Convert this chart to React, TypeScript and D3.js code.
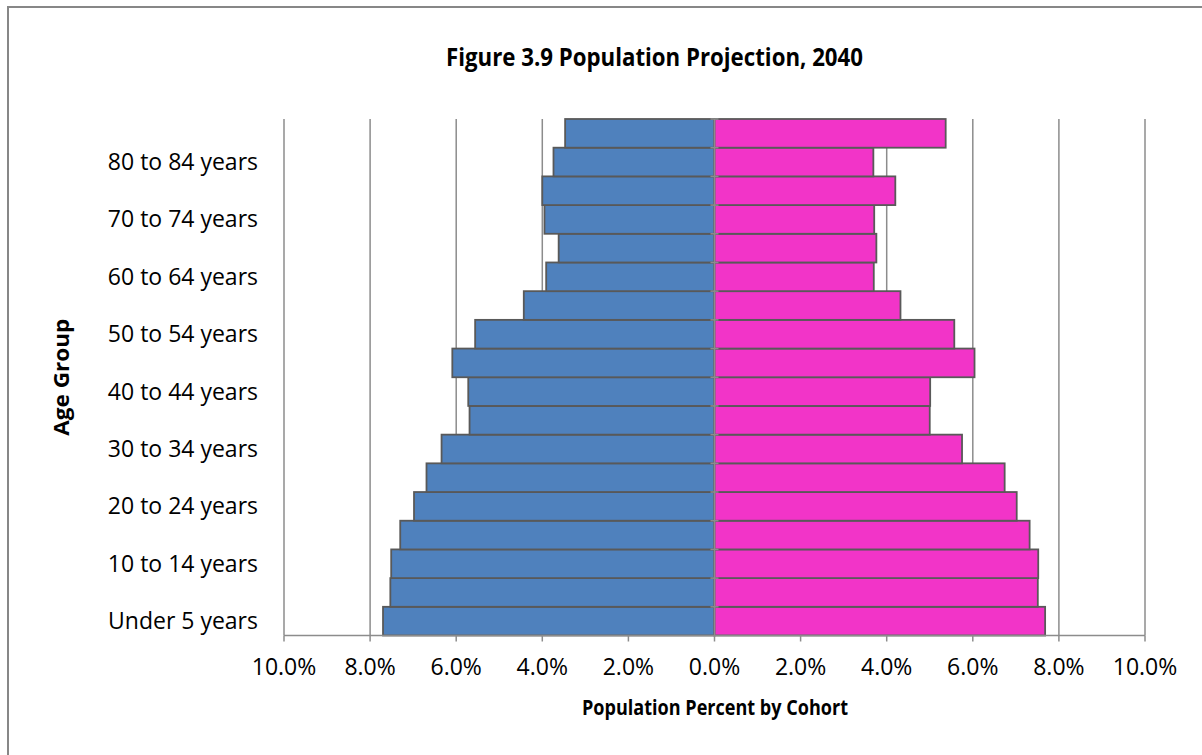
import * as d3 from "d3";

const ageGroups = [
  "Under 5 years", "5 to 9 years", "10 to 14 years", "15 to 19 years",
  "20 to 24 years", "25 to 29 years", "30 to 34 years", "35 to 39 years",
  "40 to 44 years", "45 to 49 years", "50 to 54 years", "55 to 59 years",
  "60 to 64 years", "65 to 69 years", "70 to 74 years", "75 to 79 years",
  "80 to 84 years", "85 years and over",
];
// percent of population, left side (blue) and right side (pink)
const leftValues = [
  7.7, 7.53, 7.51, 7.3, 6.98, 6.69, 6.34, 5.69, 5.72,
  6.09, 5.56, 4.43, 3.91, 3.62, 3.95, 4.0, 3.74, 3.47,
];
const rightValues = [
  7.68, 7.51, 7.52, 7.32, 7.02, 6.74, 5.75, 5.0, 5.01,
  6.04, 5.57, 4.32, 3.7, 3.76, 3.71, 4.2, 3.69, 5.37,
];
const xTicks = [-10, -8, -6, -4, -2, 0, 2, 4, 6, 8, 10];
const labelledGroups = ageGroups.filter((_, i) => i % 2 === 0);

const App = () => {
  const width = 1202;
  const height = 755;
  const left = 284;
  const right = 1145;
  const top = 119;
  const bottom = 635.5;
  const font = "'Open Sans', sans-serif";

  const x = d3.scaleLinear([-10, 10], [left, right]);
  const y = d3
    .scaleBand<string>()
    .domain([...ageGroups].reverse())
    .range([top, bottom])
    .padding(0);
  const bw = y.bandwidth();

  return (
    <svg
      width={width}
      height={height}
      style={{ position: "absolute", left: 0, top: 0 }}
      fontFamily={font}
    >
      <rect x={0} y={0} width={width} height={height} fill="white" />
      <rect
        x={8}
        y={7}
        width={1400}
        height={1000}
        fill="none"
        stroke="#878787"
        strokeWidth={2}
      />
      <text
        x={654.5}
        y={66}
        textAnchor="middle"
        fontSize={25}
        fontWeight="bold"
        fill="#000"
        textLength={417}
        lengthAdjust="spacingAndGlyphs"
      >
        Figure 3.9 Population Projection, 2040
      </text>

      {/* gridlines */}
      <g stroke="#8c8c8c" strokeWidth={1.5}>
        {xTicks
          .filter((t) => t !== 0)
          .map((t) => (
            <line key={t} x1={x(t)} x2={x(t)} y1={top} y2={bottom} />
          ))}
      </g>

      {/* bars */}
      <g stroke="#595959" strokeWidth={1.8}>
        {ageGroups.map((g, i) => (
          <rect
            key={"l" + g}
            x={x(-leftValues[i])}
            y={y(g)!}
            width={x(0) - x(-leftValues[i])}
            height={bw}
            fill="#4f81bd"
          />
        ))}
        {ageGroups.map((g, i) => (
          <rect
            key={"r" + g}
            x={x(0)}
            y={y(g)!}
            width={x(rightValues[i]) - x(0)}
            height={bw}
            fill="#f234c8"
          />
        ))}
      </g>

      {/* category axis at zero */}
      <g stroke="#8c8c8c" strokeWidth={1.5}>
        <line x1={x(0)} x2={x(0)} y1={top} y2={bottom} />
        {ageGroups.map((g) => (
          <line
            key={g}
            x1={x(0) - 4}
            x2={x(0) + 4}
            y1={y(g)!}
            y2={y(g)!}
          />
        ))}
      </g>

      {/* bottom axis */}
      <g stroke="#8c8c8c" strokeWidth={1.5}>
        <line x1={left} x2={right} y1={bottom} y2={bottom} />
        {xTicks.map((t) => (
          <line key={t} x1={x(t)} x2={x(t)} y1={bottom} y2={bottom + 6} />
        ))}
      </g>
      <g fontSize={23} fill="#000" textAnchor="middle">
        {xTicks.map((t) => (
          <text key={t} x={x(t)} y={675}>
            {d3.format(".1f")(Math.abs(t)) + "%"}
          </text>
        ))}
      </g>

      {/* category labels */}
      <g fontSize={23} fill="#000" textAnchor="end">
        {labelledGroups.map((g) => (
          <text key={g} x={258} y={y(g)! + bw / 2} dy="0.35em">
            {g}
          </text>
        ))}
      </g>

      <text
        x={715}
        y={715}
        textAnchor="middle"
        fontSize={21}
        fontWeight="bold"
        textLength={266}
        lengthAdjust="spacingAndGlyphs"
      >
        Population Percent by Cohort
      </text>
      <text
        transform={`translate(69,${(top + bottom) / 2}) rotate(-90)`}
        textAnchor="middle"
        fontSize={21}
        fontWeight="bold"
        textLength={117}
        lengthAdjust="spacingAndGlyphs"
      >
        Age Group
      </text>
    </svg>
  );
};

export default App;
